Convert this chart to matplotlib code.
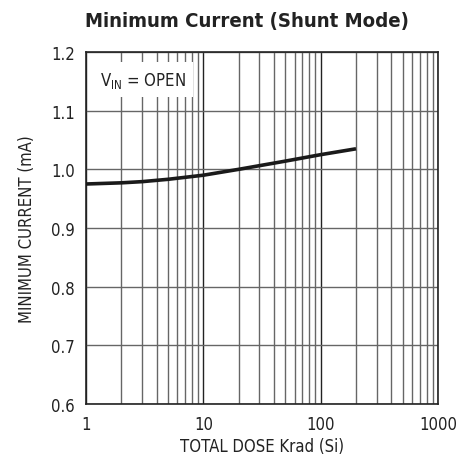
import matplotlib
matplotlib.use("Agg")
import matplotlib.pyplot as plt
from matplotlib.ticker import LogLocator, NullFormatter, FixedLocator, FixedFormatter
import numpy as np

dose = [1, 2, 3, 5, 10, 20, 50, 100, 200]
current = [0.975, 0.977, 0.979, 0.983, 0.990, 1.000, 1.014, 1.025, 1.035]
xticks = [1, 10, 100, 1000]
xticklabels = ["1", "10", "100", "1000"]
yticks = [0.6, 0.7, 0.8, 0.9, 1.0, 1.1, 1.2]
yticklabels = ["0.6", "0.7", "0.8", "0.9", "1.0", "1.1", "1.2"]

plt.rcParams['font.family'] = ['DejaVu Sans']
plt.rcParams['font.stretch'] = 'condensed'
plt.rcParams['mathtext.fontset'] = 'custom'
plt.rcParams['mathtext.rm'] = 'DejaVu Sans:stretch=condensed'

fig = plt.figure(figsize=(4.72, 4.60), dpi=100)
ax = fig.add_axes([86/472, 55/460, 352/472, 352/460])
ax.set_xscale('log')
ax.set_xlim(1, 1000)
ax.set_ylim(0.6, 1.2)

ax.xaxis.set_major_locator(FixedLocator(xticks))
ax.xaxis.set_major_formatter(FixedFormatter(xticklabels))
ax.xaxis.set_minor_locator(LogLocator(base=10, subs=np.arange(2, 10)))
ax.xaxis.set_minor_formatter(NullFormatter())
ax.yaxis.set_major_locator(FixedLocator(yticks))
ax.yaxis.set_major_formatter(FixedFormatter(yticklabels))

ax.grid(True, which='major', axis='x', color='#222222', lw=1.0)
ax.grid(True, which='minor', axis='x', color='#666666', lw=1.0)
ax.grid(True, which='major', axis='y', color='#666666', lw=1.0)
ax.tick_params(which='both', length=0, labelsize=12, colors='#222222', pad=8)
for s in ax.spines.values():
    s.set_color('#222222')
    s.set_linewidth(1.2)

ax.plot(dose, current, color='#1a1a1a', lw=2.6, solid_capstyle='butt', zorder=3)

ax.text(1.31, 1.153, r'V$_\mathregular{IN}$ = OPEN', fontsize=12, color='#222222',
        va='center', ha='left', zorder=4,
        bbox=dict(boxstyle='square,pad=0.45', fc='white', ec='none'))

ax.set_xlabel('TOTAL DOSE Krad (Si)', fontsize=12, color='#222222', labelpad=3)
ax.set_ylabel('MINIMUM CURRENT (mA)', fontsize=12, color='#222222', labelpad=11)
fig.text(247/472, 1 - 21/460, 'Minimum Current (Shunt Mode)', fontsize=14.6,
         fontweight='bold', ha='center', va='center', color='#222222')

fig.savefig('out.png', dpi=100)
